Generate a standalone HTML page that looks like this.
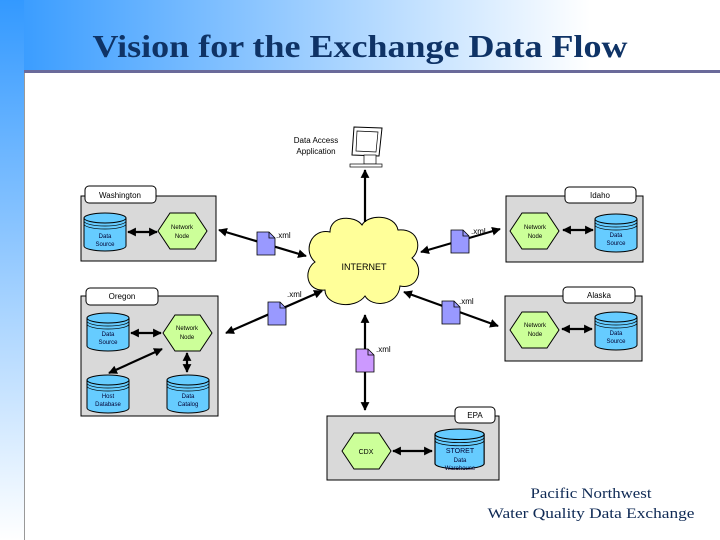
<!DOCTYPE html>
<html><head><meta charset="utf-8"><style>
html,body{margin:0;padding:0;background:#fff}
svg{display:block}
</style></head><body>
<svg width="720" height="540" viewBox="0 0 720 540" xmlns="http://www.w3.org/2000/svg" font-family="Liberation Sans, sans-serif">
<defs>
<linearGradient id="hg" x1="0" y1="0" x2="1" y2="0">
<stop offset="0" stop-color="#3399ff"/><stop offset="0.82" stop-color="#ffffff"/><stop offset="1" stop-color="#ffffff"/>
</linearGradient>
<linearGradient id="vg" x1="0" y1="0" x2="0" y2="1">
<stop offset="0" stop-color="#3399ff"/><stop offset="1" stop-color="#ffffff"/>
</linearGradient>
<marker id="ah" viewBox="0 0 10 10" refX="9" refY="5" markerWidth="4" markerHeight="4" orient="auto-start-reverse">
<path d="M0,0 L10,5 L0,10 z" fill="#000"/>
</marker>
<g id="cyl">
<path d="M0,5 L0,33 A21,5 0 0 0 42,33 L42,5" fill="#66ccff" stroke="#000" stroke-width="1"/>
<ellipse cx="21" cy="5" rx="21" ry="5" fill="#66ccff" stroke="#000"/>
<path d="M0,8 A21,5 0 0 0 42,8 M0,11 A21,5 0 0 0 42,11" fill="none" stroke="#000" stroke-width="0.7"/>
</g>
<g id="hex"><polygon points="0,18 12,0 37,0 49,18 37,36 12,36" fill="#ccff99" stroke="#000"/></g>
<g id="doc"><path d="M0,0 L12,0 L18,6 L18,23 L0,23 z" fill="#9999ff" stroke="#000" stroke-width="0.8"/><path d="M12,0 L12,6 L18,6" fill="none" stroke="#000" stroke-width="0.8"/></g>
</defs>
<rect x="0" y="0" width="720" height="72" fill="url(#hg)"/>
<rect x="0" y="0" width="24" height="540" fill="url(#vg)"/>
<rect x="24" y="70" width="696" height="3" fill="#6a6a9a"/>
<rect x="24" y="73" width="1" height="467" fill="#999"/>
<text x="360" y="57" text-anchor="middle" font-family="Liberation Serif, serif" font-weight="bold" font-size="32" fill="#0f3366" textLength="535" lengthAdjust="spacingAndGlyphs">Vision for the Exchange Data Flow</text>

<g font-size="8" fill="#000">
<text x="316" y="143" text-anchor="middle">Data Access</text>
<text x="316" y="154" text-anchor="middle">Application</text>
<polygon points="354,127 382,128 379,156 352,155" fill="#fff" stroke="#000"/>
<polygon points="357,131 378,132 376,152 356,151" fill="#fff" stroke="#000" stroke-width="0.7"/>
<rect x="364" y="155" width="12" height="9" fill="#fff" stroke="#000" stroke-width="0.7"/>
<rect x="350" y="164" width="32" height="3" fill="#fff" stroke="#000" stroke-width="0.7"/>

<!-- Washington -->
<rect x="81" y="196" width="135" height="65" fill="#d9d9d9" stroke="#000"/>
<rect x="85" y="186" width="71" height="17" rx="4" fill="#fff" stroke="#000"/>
<text x="120" y="198" text-anchor="middle">Washington</text>
<use href="#cyl" x="84" y="213"/>
<text x="105" y="238" text-anchor="middle" font-size="6" fill="#003">Data</text>
<text x="105" y="246" text-anchor="middle" font-size="6" fill="#003">Source</text>
<use href="#hex" x="158" y="213"/>
<text x="182" y="229" text-anchor="middle" font-size="6">Network</text>
<text x="182" y="238" text-anchor="middle" font-size="6">Node</text>

<!-- Oregon -->
<rect x="81" y="296" width="137" height="120" fill="#d9d9d9" stroke="#000"/>
<rect x="86" y="288" width="72" height="17" rx="4" fill="#fff" stroke="#000"/>
<text x="122" y="299" text-anchor="middle">Oregon</text>
<use href="#cyl" x="87" y="313"/>
<text x="108" y="336" text-anchor="middle" font-size="6" fill="#003">Data</text>
<text x="108" y="344" text-anchor="middle" font-size="6" fill="#003">Source</text>
<use href="#hex" x="163" y="315"/>
<text x="187" y="330" text-anchor="middle" font-size="6">Network</text>
<text x="187" y="339" text-anchor="middle" font-size="6">Node</text>
<use href="#cyl" x="87" y="375"/>
<text x="108" y="398" text-anchor="middle" font-size="6" fill="#003">Host</text>
<text x="108" y="406" text-anchor="middle" font-size="6" fill="#003">Database</text>
<use href="#cyl" x="167" y="375"/>
<text x="188" y="398" text-anchor="middle" font-size="6" fill="#003">Data</text>
<text x="188" y="406" text-anchor="middle" font-size="6" fill="#003">Catalog</text>

<!-- Idaho -->
<rect x="506" y="196" width="137" height="66" fill="#d9d9d9" stroke="#000"/>
<rect x="565" y="187" width="71" height="16" rx="4" fill="#fff" stroke="#000"/>
<text x="600" y="198" text-anchor="middle">Idaho</text>
<use href="#hex" x="510" y="213"/>
<text x="535" y="229" text-anchor="middle" font-size="6">Network</text>
<text x="535" y="238" text-anchor="middle" font-size="6">Node</text>
<use href="#cyl" x="595" y="214"/>
<text x="616" y="237" text-anchor="middle" font-size="6" fill="#003">Data</text>
<text x="616" y="245" text-anchor="middle" font-size="6" fill="#003">Source</text>

<!-- Alaska -->
<rect x="505" y="296" width="137" height="65" fill="#d9d9d9" stroke="#000"/>
<rect x="563" y="287" width="72" height="16" rx="4" fill="#fff" stroke="#000"/>
<text x="599" y="298" text-anchor="middle">Alaska</text>
<use href="#hex" x="510" y="312"/>
<text x="535" y="327" text-anchor="middle" font-size="6">Network</text>
<text x="535" y="336" text-anchor="middle" font-size="6">Node</text>
<use href="#cyl" x="595" y="312"/>
<text x="616" y="335" text-anchor="middle" font-size="6" fill="#003">Data</text>
<text x="616" y="343" text-anchor="middle" font-size="6" fill="#003">Source</text>

<!-- EPA -->
<rect x="327" y="416" width="172" height="64" fill="#d9d9d9" stroke="#000"/>
<rect x="455" y="407" width="40" height="16" rx="4" fill="#fff" stroke="#000"/>
<text x="475" y="418" text-anchor="middle">EPA</text>
<use href="#hex" x="342" y="433"/>
<text x="366" y="454" text-anchor="middle" font-size="7">CDX</text>
<g transform="translate(435,429) scale(1.17,1.05)"><use href="#cyl"/></g>
<text x="460" y="453" text-anchor="middle" font-size="7" fill="#003">STORET</text>
<text x="460" y="462" text-anchor="middle" font-size="6" fill="#003">Data</text>
<text x="460" y="470" text-anchor="middle" font-size="6" fill="#003">Warehouse</text>

<!-- cloud -->
<path d="M330,232 C330,215 355,215 362,225 C368,214 395,214 398,230 C420,228 422,250 412,258 C425,268 418,290 400,286 C398,306 372,308 365,296 C355,310 325,306 325,290 C306,292 303,270 315,262 C302,250 312,228 330,232 z" fill="#ffff99" stroke="#000"/>
<text x="364" y="270" text-anchor="middle" font-size="9">INTERNET</text>

<g stroke="#000" stroke-width="2.2" fill="none" marker-start="url(#ah)" marker-end="url(#ah)">
<line x1="365" y1="222" x2="365" y2="170" marker-start="none"/>
<line x1="219" y1="230" x2="306" y2="256"/>
<line x1="226" y1="333" x2="322" y2="291"/>
<line x1="365" y1="315" x2="365" y2="410"/>
<line x1="421" y1="252" x2="500" y2="229"/>
<line x1="404" y1="292" x2="498" y2="326"/>
<line x1="128" y1="232" x2="157" y2="232"/>
<line x1="131" y1="333" x2="161" y2="333"/>
<line x1="162" y1="349" x2="109" y2="373"/>
<line x1="187" y1="353" x2="187" y2="372"/>
<line x1="563" y1="230" x2="593" y2="230"/>
<line x1="562" y1="329" x2="592" y2="329"/>
<line x1="393" y1="451" x2="432" y2="451"/>
</g>
<use href="#doc" x="257" y="232"/><text x="276" y="238">.xml</text>
<use href="#doc" x="268" y="302"/><text x="287" y="297">.xml</text>
<use href="#doc" x="451" y="230"/><text x="471" y="234">.xml</text>
<use href="#doc" x="442" y="301"/><text x="459" y="304">.xml</text>
<g><path d="M356,349 L368,349 L374,355 L374,372 L356,372 z" fill="#cc99ff" stroke="#000" stroke-width="0.8"/><path d="M368,349 L368,355 L374,355" fill="none" stroke="#000" stroke-width="0.8"/></g>
<text x="376" y="352">.xml</text>
</g>

<text x="591" y="498" text-anchor="middle" font-family="Liberation Serif, serif" font-size="15" fill="#0f2a55" textLength="121" lengthAdjust="spacingAndGlyphs">Pacific Northwest</text>
<text x="591" y="518" text-anchor="middle" font-family="Liberation Serif, serif" font-size="15" fill="#0f2a55" textLength="207" lengthAdjust="spacingAndGlyphs">Water Quality Data Exchange</text>
</svg>
</body></html>
